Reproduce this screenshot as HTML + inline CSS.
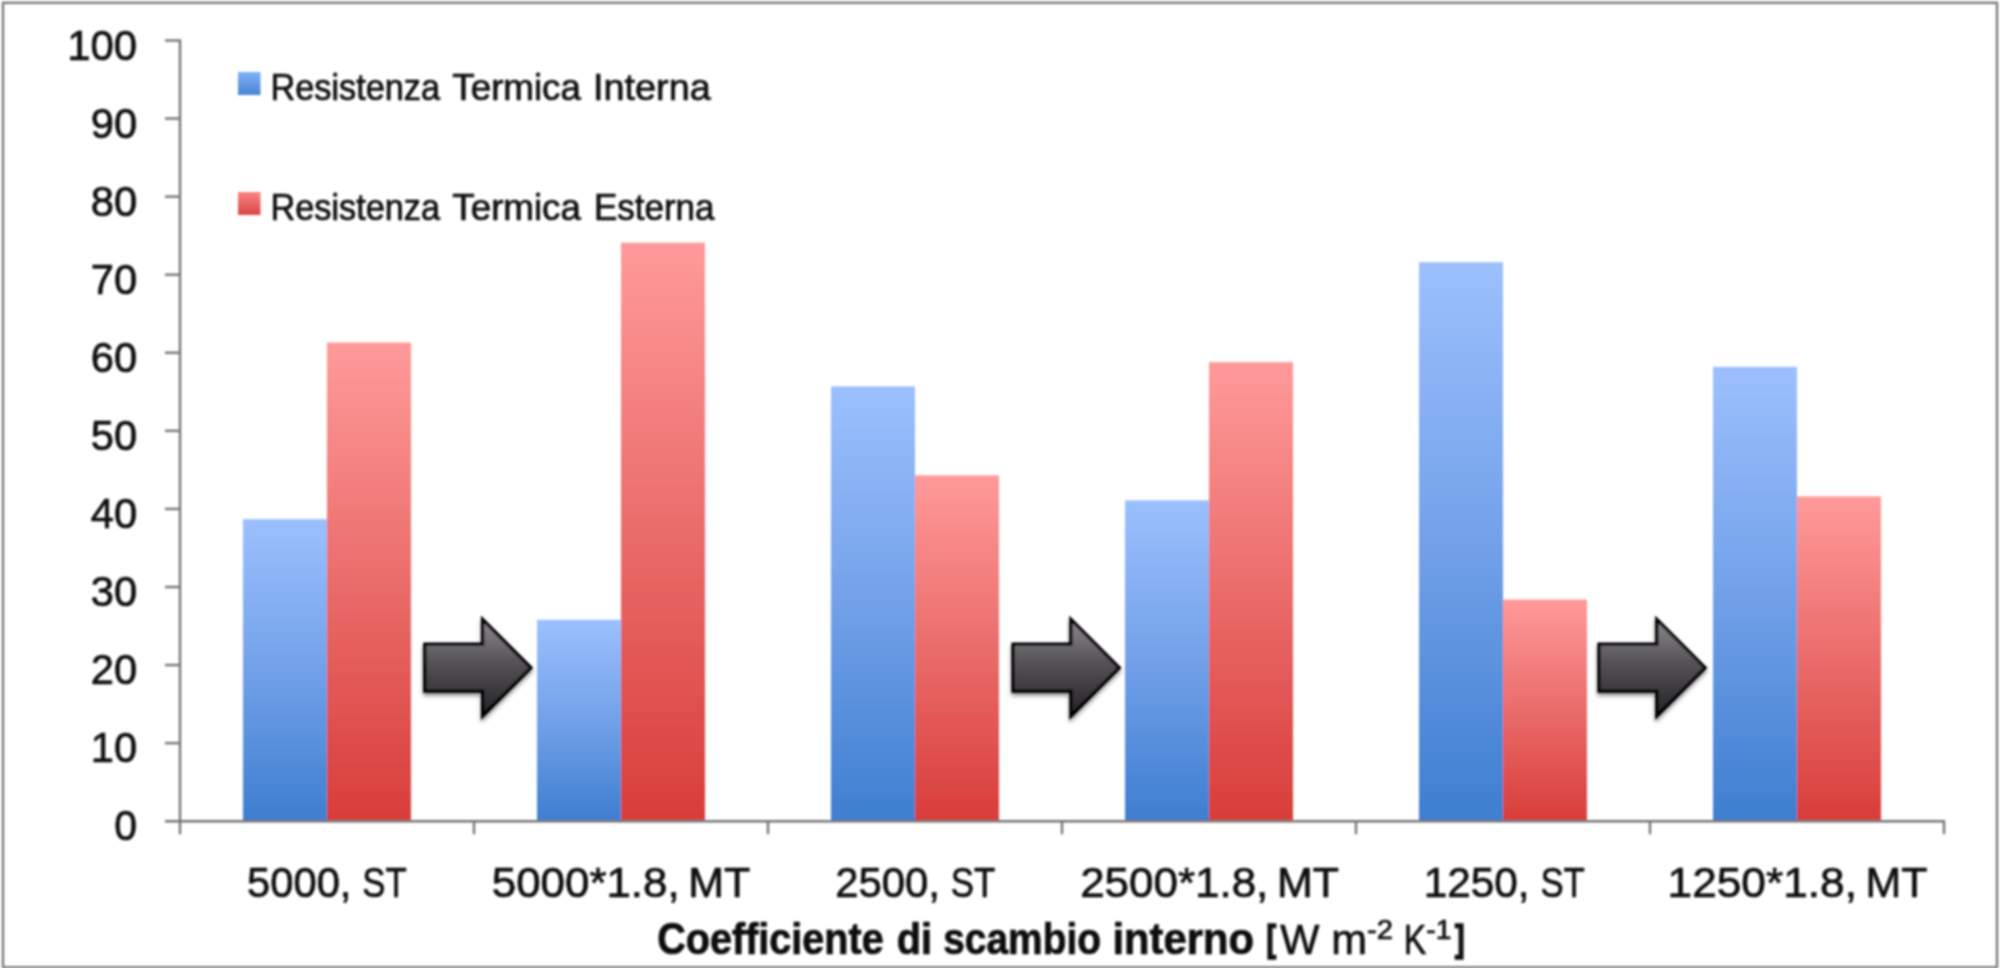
<!DOCTYPE html>
<html lang="it"><head><meta charset="utf-8"><title>Resistenza termica</title>
<style>html,body{margin:0;padding:0;background:#fff;width:2000px;height:968px;overflow:hidden}svg{display:block}text{font-family:"Liberation Sans", sans-serif;fill:#0c0c0c;stroke:#0c0c0c;stroke-width:0.7px}</style>
</head><body>
<svg width="2000" height="968" viewBox="0 0 2000 968">
<defs>
<linearGradient id="gb" x1="0" y1="0" x2="0" y2="1"><stop offset="0" stop-color="#9cc0fd"/><stop offset="0.5" stop-color="#72a1e9"/><stop offset="1" stop-color="#3e7ed0"/></linearGradient>
<linearGradient id="gr" x1="0" y1="0" x2="0" y2="1"><stop offset="0" stop-color="#ff9a9a"/><stop offset="0.5" stop-color="#ea6c6a"/><stop offset="1" stop-color="#d83d3a"/></linearGradient>
<linearGradient id="ga" x1="0" y1="0" x2="0" y2="1"><stop offset="0" stop-color="#8d898f"/><stop offset="0.45" stop-color="#555256"/><stop offset="1" stop-color="#232124"/></linearGradient>
<linearGradient id="sb" x1="0" y1="0" x2="0" y2="1"><stop offset="0" stop-color="#80b2f6"/><stop offset="1" stop-color="#4883d6"/></linearGradient>
<linearGradient id="sr" x1="0" y1="0" x2="0" y2="1"><stop offset="0" stop-color="#fb8484"/><stop offset="1" stop-color="#d84745"/></linearGradient>
<filter id="sh" x="-20%" y="-20%" width="140%" height="150%"><feGaussianBlur in="SourceAlpha" stdDeviation="2.2"/><feOffset dx="0" dy="3" result="b"/><feComponentTransfer><feFuncA type="linear" slope="0.45"/></feComponentTransfer><feMerge><feMergeNode/><feMergeNode in="SourceGraphic"/></feMerge></filter>
<filter id="soft"><feGaussianBlur stdDeviation="0.8"/></filter>
<filter id="soft2" x="-1%" y="-1%" width="102%" height="102%"><feGaussianBlur stdDeviation="1.1"/></filter>
</defs>
<rect x="0" y="0" width="2000" height="968" fill="#ffffff"/>
<rect x="3" y="2.8" width="1994" height="964.5" fill="none" stroke="#7c7a7d" stroke-width="2.4" filter="url(#soft2)"/>
<g filter="url(#soft)">
<rect x="243.0" y="519.1" width="84.0" height="302.1" fill="url(#gb)"/>
<rect x="327.0" y="342.6" width="84.0" height="478.6" fill="url(#gr)"/>
<rect x="537.0" y="619.8" width="84.0" height="201.4" fill="url(#gb)"/>
<rect x="621.0" y="242.7" width="84.0" height="578.5" fill="url(#gr)"/>
<rect x="831.0" y="386.4" width="84.0" height="434.8" fill="url(#gb)"/>
<rect x="915.0" y="475.3" width="84.0" height="345.9" fill="url(#gr)"/>
<rect x="1125.0" y="500.3" width="84.0" height="320.9" fill="url(#gb)"/>
<rect x="1209.0" y="362.1" width="84.0" height="459.1" fill="url(#gr)"/>
<rect x="1419.0" y="262.2" width="84.0" height="559.0" fill="url(#gb)"/>
<rect x="1503.0" y="599.5" width="84.0" height="221.7" fill="url(#gr)"/>
<rect x="1713.0" y="366.8" width="84.0" height="454.4" fill="url(#gb)"/>
<rect x="1797.0" y="496.4" width="84.0" height="324.8" fill="url(#gr)"/>
<g stroke="#767477" stroke-width="2.4" fill="none">
<path d="M180.0 39.5 V834.2"/>
<path d="M165.0 821.2 H1945.0"/>
<path d="M165 40.50 H180.0"/>
<path d="M165 118.57 H180.0"/>
<path d="M165 196.64 H180.0"/>
<path d="M165 274.71 H180.0"/>
<path d="M165 352.78 H180.0"/>
<path d="M165 430.85 H180.0"/>
<path d="M165 508.92 H180.0"/>
<path d="M165 586.99 H180.0"/>
<path d="M165 665.06 H180.0"/>
<path d="M165 743.13 H180.0"/>
<path d="M474.0 821.2 V834.2"/>
<path d="M768.0 821.2 V834.2"/>
<path d="M1062.0 821.2 V834.2"/>
<path d="M1356.0 821.2 V834.2"/>
<path d="M1650.0 821.2 V834.2"/>
<path d="M1944.0 821.2 V834.2"/>
</g>
<path d="M424.8 644.2 H482.6 V619.4 L530.9 667.7 L482.6 716.0 V691.2 H424.8 Z" fill="url(#ga)" stroke="#000000" stroke-width="3.3" stroke-linejoin="miter" filter="url(#sh)"/>
<path d="M1013.0 644.2 H1070.9 V619.4 L1119.2 667.7 L1070.9 716.0 V691.2 H1013.0 Z" fill="url(#ga)" stroke="#000000" stroke-width="3.3" stroke-linejoin="miter" filter="url(#sh)"/>
<path d="M1599.0 644.2 H1656.8 V619.4 L1705.1 667.7 L1656.8 716.0 V691.2 H1599.0 Z" fill="url(#ga)" stroke="#000000" stroke-width="3.3" stroke-linejoin="miter" filter="url(#sh)"/>
<rect x="238" y="72" width="22.5" height="23" fill="url(#sb)"/>
<rect x="238" y="192" width="22.5" height="23" fill="url(#sr)"/>
</g>
<g filter="url(#soft)">
<text y="59.5" font-size="43"><tspan x="67.23" font-size="43" textLength="69.95" lengthAdjust="spacingAndGlyphs">100</tspan></text>
<text y="137.6" font-size="43"><tspan x="90.84" font-size="43" textLength="46.41" lengthAdjust="spacingAndGlyphs">90</tspan></text>
<text y="215.6" font-size="43"><tspan x="90.84" font-size="43" textLength="46.41" lengthAdjust="spacingAndGlyphs">80</tspan></text>
<text y="293.7" font-size="43"><tspan x="90.85" font-size="43" textLength="46.41" lengthAdjust="spacingAndGlyphs">70</tspan></text>
<text y="371.8" font-size="43"><tspan x="90.85" font-size="43" textLength="46.41" lengthAdjust="spacingAndGlyphs">60</tspan></text>
<text y="449.9" font-size="43"><tspan x="90.84" font-size="43" textLength="46.41" lengthAdjust="spacingAndGlyphs">50</tspan></text>
<text y="527.9" font-size="43"><tspan x="90.83" font-size="43" textLength="46.42" lengthAdjust="spacingAndGlyphs">40</tspan></text>
<text y="606.0" font-size="43"><tspan x="90.84" font-size="43" textLength="46.41" lengthAdjust="spacingAndGlyphs">30</tspan></text>
<text y="684.1" font-size="43"><tspan x="90.85" font-size="43" textLength="46.41" lengthAdjust="spacingAndGlyphs">20</tspan></text>
<text y="762.1" font-size="43"><tspan x="90.86" font-size="43" textLength="46.39" lengthAdjust="spacingAndGlyphs">10</tspan></text>
<text y="840.2" font-size="43"><tspan x="114.35" font-size="43" textLength="22.83" lengthAdjust="spacingAndGlyphs">0</tspan></text>
<text y="896.9" font-size="43"><tspan x="247.10" font-size="43" textLength="104.33" lengthAdjust="spacingAndGlyphs">5000,</tspan> <tspan x="362.28" font-size="43" textLength="44.49" lengthAdjust="spacingAndGlyphs">ST</tspan></text>
<text y="896.9" font-size="43"><tspan x="491.81" font-size="43" textLength="187.83" lengthAdjust="spacingAndGlyphs">5000*1.8,</tspan> <tspan x="688.21" font-size="43" textLength="61.95" lengthAdjust="spacingAndGlyphs">MT</tspan></text>
<text y="896.9" font-size="43"><tspan x="835.13" font-size="43" textLength="104.72" lengthAdjust="spacingAndGlyphs">2500,</tspan> <tspan x="950.68" font-size="43" textLength="44.49" lengthAdjust="spacingAndGlyphs">ST</tspan></text>
<text y="896.9" font-size="43"><tspan x="1080.13" font-size="43" textLength="188.22" lengthAdjust="spacingAndGlyphs">2500*1.8,</tspan> <tspan x="1276.91" font-size="43" textLength="61.95" lengthAdjust="spacingAndGlyphs">MT</tspan></text>
<text y="896.9" font-size="43"><tspan x="1423.70" font-size="43" textLength="105.89" lengthAdjust="spacingAndGlyphs">1250,</tspan> <tspan x="1540.38" font-size="43" textLength="44.49" lengthAdjust="spacingAndGlyphs">ST</tspan></text>
<text y="896.9" font-size="43"><tspan x="1667.56" font-size="43" textLength="189.42" lengthAdjust="spacingAndGlyphs">1250*1.8,</tspan> <tspan x="1865.51" font-size="43" textLength="61.95" lengthAdjust="spacingAndGlyphs">MT</tspan></text>
<text y="99.8" font-size="36.5"><tspan x="270.59" font-size="36.5" textLength="169.37" lengthAdjust="spacingAndGlyphs">Resistenza</tspan> <tspan x="452.35" font-size="36.5" textLength="128.57" lengthAdjust="spacingAndGlyphs">Termica</tspan> <tspan x="593.00" font-size="36.5" textLength="117.70" lengthAdjust="spacingAndGlyphs">Interna</tspan></text>
<text y="219.8" font-size="36.5"><tspan x="270.59" font-size="36.5" textLength="169.37" lengthAdjust="spacingAndGlyphs">Resistenza</tspan> <tspan x="452.35" font-size="36.5" textLength="128.57" lengthAdjust="spacingAndGlyphs">Termica</tspan> <tspan x="593.92" font-size="36.5" textLength="120.61" lengthAdjust="spacingAndGlyphs">Esterna</tspan></text>
<text y="953.5" font-size="43.5"><tspan x="657.21" font-weight="bold" font-size="43.5" textLength="226.52" lengthAdjust="spacingAndGlyphs">Coefficiente</tspan> <tspan x="896.80" font-weight="bold" font-size="43.5" textLength="35.26" lengthAdjust="spacingAndGlyphs">di</tspan> <tspan x="943.26" font-weight="bold" font-size="43.5" textLength="157.69" lengthAdjust="spacingAndGlyphs">scambio</tspan> <tspan x="1112.52" font-weight="bold" font-size="43.5" textLength="141.37" lengthAdjust="spacingAndGlyphs">interno</tspan> <tspan x="1266.56" y="951.0" font-weight="bold" font-size="37.3" textLength="9.55" lengthAdjust="spacingAndGlyphs" stroke-width="1.7">[</tspan><tspan x="1280.16" y="953.5" font-size="43" textLength="39.14" lengthAdjust="spacingAndGlyphs">W</tspan> <tspan x="1331.13" font-size="43" textLength="35.79" lengthAdjust="spacingAndGlyphs">m</tspan><tspan x="1367.00" y="939.3" font-size="28" textLength="25.96" lengthAdjust="spacingAndGlyphs">-2</tspan> <tspan x="1403.86" y="953.5" font-size="43" textLength="22.48" lengthAdjust="spacingAndGlyphs">K</tspan><tspan x="1426.24" y="939.3" font-size="28" textLength="25.15" lengthAdjust="spacingAndGlyphs">-1</tspan><tspan x="1454.92" y="951.0" font-weight="bold" font-size="37.3" textLength="9.55" lengthAdjust="spacingAndGlyphs" stroke-width="1.7">]</tspan></text>
</g>
</svg>
</body></html>
